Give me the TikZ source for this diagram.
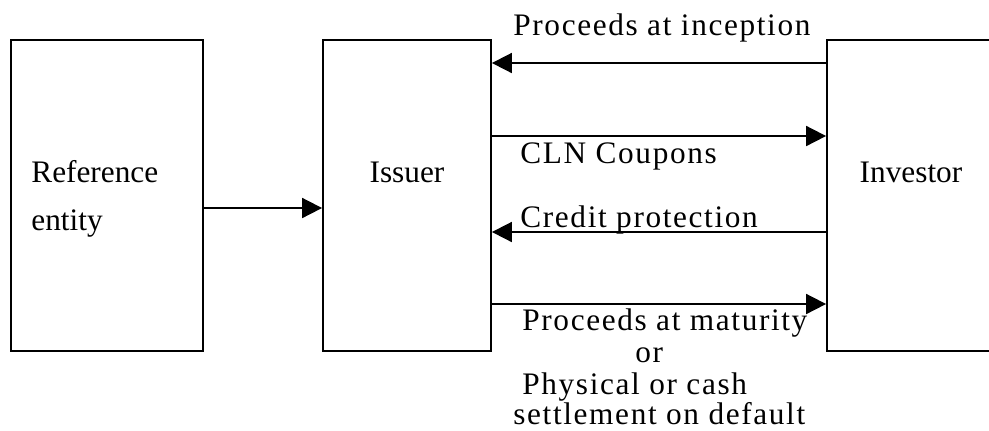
\documentclass[tikz,border=0pt]{standalone}
\usepackage{fontspec}
\setmainfont{Liberation Serif}
\newfontfamily\spacedfont[LetterSpace=5.2]{Liberation Serif}
\usetikzlibrary{arrows.meta}

\begin{document}
\begin{tikzpicture}[x=0.5pt,y=-0.5pt,
  box/.style={draw, line width=0.9pt, minimum height=155.5pt, inner sep=0pt},
  lbl/.style={inner sep=0pt, font=\fontsize{15.65}{15.65}\selectfont},
  flow/.style={inner sep=0pt, anchor=base west, font=\spacedfont\fontsize{15.65}{15.65}\selectfont},
  arr/.style={line width=0.9pt, -{Triangle[length=10pt,width=10pt]}}]
  \path[use as bounding box] (0,0) rectangle (989,430);
  \clip (0,0) rectangle (989,430);

  % the three parties
  \node[box, minimum width=96pt] (ref) at (107,195.5) {};
  \node[box, minimum width=84pt] (iss) at (407,195.5) {};
  \node[box, minimum width=84pt] (inv) at (911,195.5) {};

  \node[lbl, anchor=base west] (reftxt1) at (31,182) {Reference};
  \node[lbl, anchor=base west] (reftxt2) at (31,230) {entity};
  \node[lbl, anchor=base] (isstxt) at (iss |- 0,182) {Issuer};
  \node[lbl, anchor=base] (invtxt) at (inv |- 0,182) {Investor};

  % cash flows
  \draw[arr] (ref.east |- 0,208) -- (iss.west |- 0,208);
  \draw[arr] (inv.west |- 0,63) -- (iss.east |- 0,63);
  \draw[arr] (iss.east |- 0,136) -- (inv.west |- 0,136);
  \draw[arr] (inv.west |- 0,232) -- (iss.east |- 0,232);
  \draw[arr] (iss.east |- 0,304) -- (inv.west |- 0,304);

  \node[flow] (f1) at (513,35) {Proceeds at inception};
  \node[flow] (f2) at (520,163) {CLN Coupons};
  \node[flow] (f3) at (520,227) {Credit protection};
  \node[flow] (f4a) at (522,330) {Proceeds at maturity};
  \node[flow] (f4b) at (635,362) {or};
  \node[flow] (f4c) at (522,394) {Physical or cash};
  \node[flow] (f4d) at (513,424) {settlement on default};
\end{tikzpicture}
\end{document}
